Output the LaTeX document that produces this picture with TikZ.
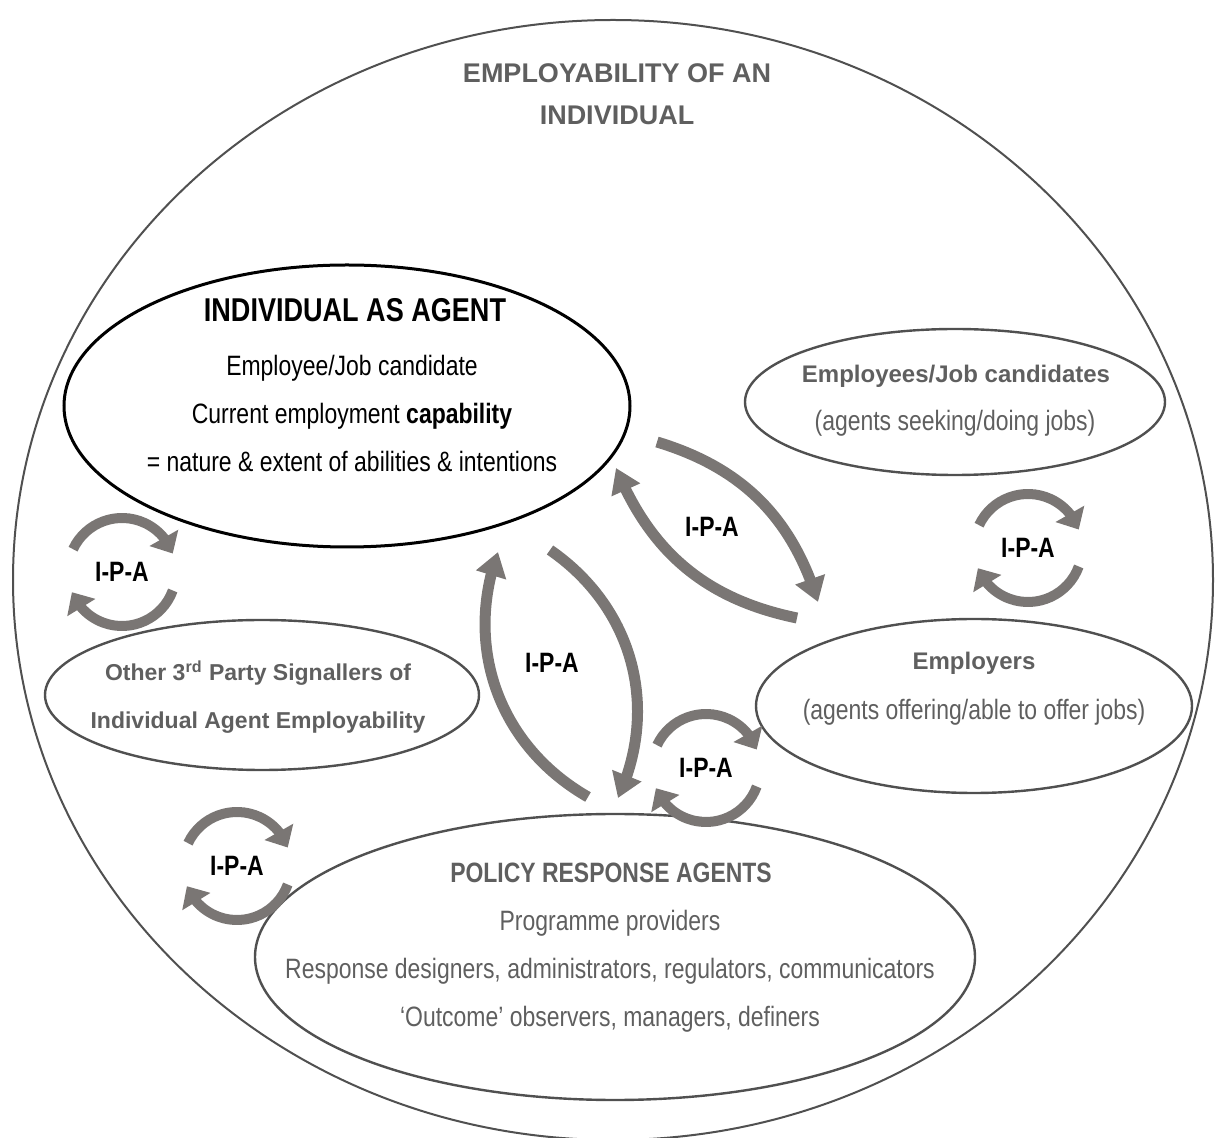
\documentclass[tikz,border=0pt]{standalone}
\usepackage{fontspec}
\setmainfont{Liberation Sans}[FakeStretch=0.82]
\newfontfamily\widefont{Liberation Sans}
\usetikzlibrary{shapes.geometric,arrows.meta,bending}
\definecolor{linegray}{RGB}{80,80,80}
\definecolor{textgray}{RGB}{95,95,95}
\definecolor{arrowgray}{RGB}{122,118,116}
\tikzset{
  agent/.style={ellipse, draw=linegray, line width=1.2pt, inner sep=0pt},
  ipa/.style={font=\fontsize{14}{16}\selectfont\bfseries},
  cyc/.style={draw=arrowgray, line width=5pt, -{Triangle[length=9pt,width=16pt]}},
  bigarrow/.style={draw=arrowgray, line width=5.5pt, -{Triangle[length=12pt,width=15pt]}},
  body/.style={align=center, font=\fontsize{14}{24}\selectfont},
  head/.style={align=center, font=\widefont\fontsize{12}{24}\selectfont\bfseries, text=textgray},
}
\begin{document}
\begin{tikzpicture}[x=0.5pt, y=-0.5pt]
\useasboundingbox (0,0) rectangle (1217,1138);
\node[agent, line width=1pt, minimum width=600pt, minimum height=560pt] (world) at (613,580) {};
\node[align=center, font=\widefont\fontsize{13.5}{21}\selectfont\bfseries, text=textgray] (title) at (617,94) {EMPLOYABILITY OF AN\\INDIVIDUAL};
% individual
\node[agent, draw=black, line width=1.5pt, minimum width=283pt, minimum height=141pt] (ind) at (347,406) {};
\node[font=\fontsize{16.5}{20}\selectfont\bfseries] (indtitle) at (355,310) {INDIVIDUAL AS AGENT};
\node[body] (indtext) at (352,413) {Employee/Job candidate\\Current employment \textbf{capability}\\= nature \& extent of abilities \& intentions};
% employees
\node[agent, minimum width=210pt, minimum height=73pt] (emp) at (955,402) {};
\node[head] (emptitle) at (956,376) {Employees/Job candidates};
\node[body, text=textgray] (emptext) at (955,423) {(agents seeking/doing jobs)};
% employers
\node[agent, minimum width=218pt, minimum height=87pt] (empl) at (974,706) {};
\node[head] (empltitle) at (974,663) {Employers};
\node[body, text=textgray] (empltext) at (974,712) {(agents offering/able to offer jobs)};
% other signallers
\node[agent, minimum width=217pt, minimum height=75pt] (other) at (262,695) {};
\node[head, font=\widefont\fontsize{11.5}{24}\selectfont\bfseries] (othertext) at (258,697) {Other 3\textsuperscript{rd} Party Signallers of\\Individual Agent Employability};
% policy
\node[agent, minimum width=360pt, minimum height=143pt] (pol) at (615,957) {};
\node[font=\fontsize{14}{20}\selectfont\bfseries, text=textgray] (poltitle) at (611,873) {POLICY RESPONSE AGENTS};
\node[body, text=textgray] (poltext) at (610,971) {Programme providers\\Response designers, administrators, regulators, communicators\\`Outcome' observers, managers, definers};
% big arrows
\node[ipa] (ip1) at (552,663) {I-P-A};
\node[ipa] (ip2) at (712,527) {I-P-A};
\coordinate (pa) at (588,797);
\coordinate (ia) at (498,552);
\coordinate (ib) at (550,550);
\coordinate (pb) at (618,798);
\coordinate (ic) at (657,442);
\coordinate (ec) at (818,602);
\coordinate (ed) at (797,618);
\coordinate (id) at (616,468);
\draw[bigarrow] (pa) to[bend left=40] (ia);
\draw[bigarrow] (ib) to[bend left=40] (pb);
\draw[bigarrow] (ic) to[bend left=28] (ec);
\draw[bigarrow] (ed) to[bend left=28] (id);
% cycles
\node[ipa] (c1) at (122,572) {I-P-A};
\node[ipa] (c2) at (1028,548) {I-P-A};
\node[ipa] (c3) at (706,768) {I-P-A};
\node[ipa] (c4) at (237,866) {I-P-A};
\draw[cyc] ([shift={(155:27pt)}]c1.center) arc[start angle=155, end angle=20, radius=27pt];
\draw[cyc] ([shift={(-20:27pt)}]c1.center) arc[start angle=-20, end angle=-158, radius=27pt];
\draw[cyc] ([shift={(155:27pt)}]c2.center) arc[start angle=155, end angle=20, radius=27pt];
\draw[cyc] ([shift={(-20:27pt)}]c2.center) arc[start angle=-20, end angle=-158, radius=27pt];
\draw[cyc] ([shift={(155:27pt)}]c3.center) arc[start angle=155, end angle=20, radius=27pt];
\draw[cyc] ([shift={(-20:27pt)}]c3.center) arc[start angle=-20, end angle=-158, radius=27pt];
\draw[cyc] ([shift={(155:27pt)}]c4.center) arc[start angle=155, end angle=20, radius=27pt];
\draw[cyc] ([shift={(-20:27pt)}]c4.center) arc[start angle=-20, end angle=-158, radius=27pt];
\end{tikzpicture}
\end{document}
